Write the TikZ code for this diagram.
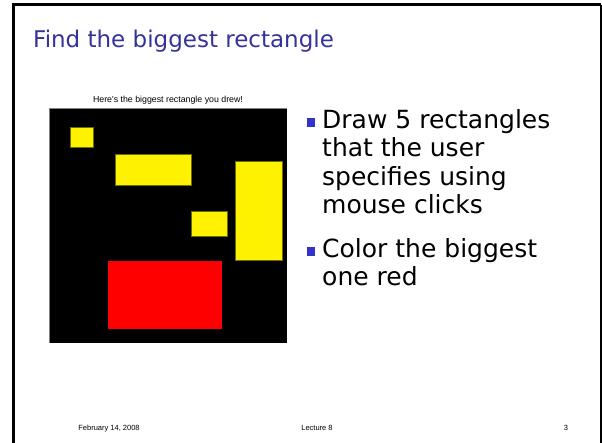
\documentclass[tikz,border=0pt]{standalone}
\usepackage{fontspec}
\setmainfont{DejaVu Sans}
\newfontfamily\smallfont{Liberation Sans}
\definecolor{titleblue}{RGB}{51,51,153}
\definecolor{bulletblue}{RGB}{51,51,204}
\definecolor{edgeolive}{RGB}{110,110,0}
\tikzset{
  yellowrect/.style={fill=yellow, draw=edgeolive, line width=0.8pt},
  bulletsq/.style={fill=bulletblue},
  bullettext/.style={anchor=base west, inner sep=0pt, font=\fontsize{25}{28}\selectfont},
  footer/.style={anchor=base, inner sep=0pt, font=\smallfont\fontsize{7.5}{8}\selectfont}
}
\begin{document}
\begin{tikzpicture}[x=1pt,y=-1pt]
			\useasboundingbox (0,0) rectangle (602,442);
			% slide frame
			\draw[line width=3pt] (13.5,443) -- (13.5,4.5) -- (600.5,4.5);
			\draw[line width=2pt] (600.5,4.5) -- (600.5,443);
			\node[anchor=base west, inner sep=0pt, text=titleblue, font=\fontsize{23}{26}\selectfont] (title) at (33,47) {Find the biggest rectangle};
			% the figure window
			\node[anchor=base, inner sep=0pt, font=\smallfont\fontsize{8.8}{10}\selectfont] (caption) at (168,102) {Here's the biggest rectangle you drew!};
			\fill[black] (49.3,108.3) rectangle (286.7,342.7);
			\draw[gray, line width=0.4pt] (49.3,342.7) -- (49.3,108.3) -- (286.7,108.3);
			\draw[yellowrect] (70,127.3) rectangle (93.3,147.7);
			\draw[yellowrect] (115,154.3) rectangle (191.7,185.3);
			\draw[yellowrect] (191.7,211.7) rectangle (227,236.3);
			\draw[yellowrect] (235.7,161.7) rectangle (282.3,260.7);
			\fill[red] (107.7,261.3) rectangle (221.7,328.7);
			% bullets
			\fill[bulletsq] (307,118) rectangle (315,126.5);
			\node[bullettext] (line1) at (322,128) {Draw 5 rectangles};
			\node[bullettext] (line2) at (322,156.5) {that the user};
			\node[bullettext] (line3) at (322,185) {specifies using};
			\node[bullettext] (line4) at (322,213.5) {mouse clicks};
			\fill[bulletsq] (307,247) rectangle (315,255.5);
			\node[bullettext] (line5) at (322,257) {Color the biggest};
			\node[bullettext] (line6) at (322,285.5) {one red};
			% footer
			\node[footer] (date) at (109,430) {February 14, 2008};
			\node[footer] (lecture) at (317,430) {Lecture 8};
			\node[footer] (page) at (566,430) {3};
		\end{tikzpicture}
\end{document}
